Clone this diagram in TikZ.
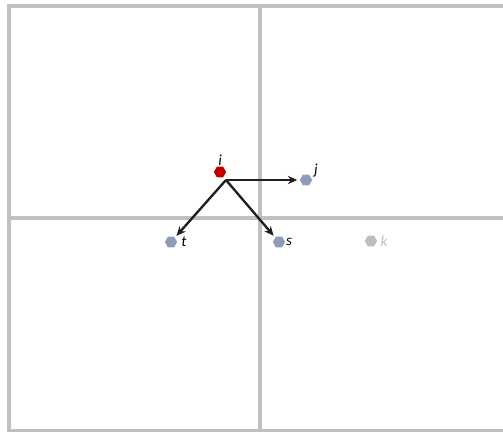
\documentclass[tikz,border=0pt]{standalone}
\usepackage{fontspec}
\setmainfont{Carlito}
\usetikzlibrary{shapes.geometric,arrows.meta}
\definecolor{gridgray}{RGB}{192,192,192}
\definecolor{nodered}{RGB}{192,0,0}
\definecolor{nodeblue}{RGB}{141,156,186}
\definecolor{fadegray}{RGB}{190,190,190}
\begin{document}
\begin{tikzpicture}[x=0.03cm,y=-0.03cm,
  cell/.style={draw=gridgray,line width=2.8pt},
  pt/.style={regular polygon,regular polygon sides=6,inner sep=0pt,minimum size=10.5pt},
  lbl/.style={font=\itshape\fontsize{13}{15}\selectfont,inner sep=1pt},
  link/.style={-{Stealth[length=8pt,width=7pt]},line width=2pt,draw=black!88,shorten >=2pt}]
\useasboundingbox (0,0) rectangle (503,432);
\draw[cell] (9,6) rectangle (512,431);
\draw[cell] (260,6) -- (260,431);
\draw[cell] (9,218) -- (512,218);
\node[pt,fill=nodered] (i) at (220,172) {};
\node[pt,fill=nodeblue] (j) at (306,180) {};
\node[pt,fill=nodeblue] (t) at (171,242) {};
\node[pt,fill=nodeblue] (s) at (279,242) {};
\node[pt,fill=fadegray] (k) at (371,241) {};
\coordinate (o) at (226,180);
\draw (i) ++(0,-12) node[lbl] {i};
\draw (j) ++(10,-9) node[lbl] {j};
\draw (t) ++(13,0) node[lbl] {t};
\draw (s) ++(10,0) node[lbl] {s};
\draw (k) ++(13,0) node[lbl,text=fadegray] {k};
\draw[link] (o) -- (j);
\draw[link] (o) -- (t);
\draw[link] (o) -- (s);
\end{tikzpicture}
\end{document}
